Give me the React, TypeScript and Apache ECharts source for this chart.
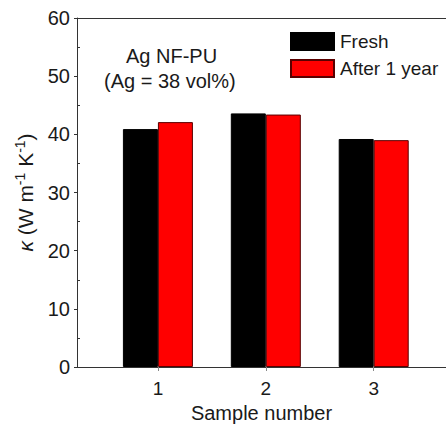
import React, { useEffect, useRef } from "react";
import * as echarts from "echarts";

// Thermal conductivity of Ag NF-PU samples, fresh vs. after one year
const samples = [1, 2, 3];
const freshValues = [40.9, 43.6, 39.2];
const agedValues = [42.1, 43.4, 39.0];
const seriesNames = ["Fresh", "After 1 year"];
const yTicks = [0, 10, 20, 30, 40, 50, 60];
const yMinorTicks = [5, 15, 25, 35, 45, 55];

const FONT = "'Liberation Sans', Arial, sans-serif";
const TEXT = "#1a1a1a";
const AXIS = "#333333";

// x range: the frame is open on the right and runs to the edge of the chart
const X_MIN = 0.25;
const X_MAX = 3.67;

export default function App() {
  const ref = useRef<HTMLDivElement>(null);

  useEffect(() => {
    if (!ref.current) return;
    const chart = echarts.init(ref.current, null, { renderer: "svg" });

    chart.setOption({
      animation: false,
      backgroundColor: "#ffffff",
      textStyle: { fontFamily: FONT },
      grid: {
        left: 77,
        top: 18,
        bottom: 63,
        right: 0,
        show: false,
        outerBoundsMode: "none",
      },
      legend: {
        left: 290,
        top: 32,
        padding: 0,
        orient: "vertical",
        itemWidth: 43,
        itemHeight: 17,
        itemGap: 8,
        icon: "rect",
        data: seriesNames,
        textStyle: { fontSize: 19, color: TEXT, fontFamily: FONT, padding: [0, 0, 0, 1] },
      },
      graphic: [
        {
          type: "text",
          left: 126,
          top: 46,
          style: { text: "Ag NF-PU", fontSize: 20, fill: TEXT, fontFamily: FONT },
        },
        {
          type: "text",
          left: 104,
          top: 71,
          style: { text: "(Ag = 38 vol%)", fontSize: 20, fill: TEXT, fontFamily: FONT },
        },
      ],
      xAxis: [
        {
          type: "value",
          min: X_MIN,
          max: X_MAX,
          name: "Sample number",
          nameLocation: "middle",
          nameGap: 36,
          nameTextStyle: { fontSize: 20, color: TEXT, fontFamily: FONT },
          splitLine: { show: false },
          axisLine: { show: true, lineStyle: { color: AXIS, width: 1 } },
          axisTick: { show: true, length: 4, lineStyle: { color: "#888888" }, customValues: samples },
          axisLabel: {
            fontSize: 19,
            color: TEXT,
            margin: 12,
            fontFamily: FONT,
            customValues: samples,
          },
        },
        {
          // top frame line
          type: "value",
          position: "top",
          min: X_MIN,
          max: X_MAX,
          splitLine: { show: false },
          axisLine: { show: true, onZero: false, lineStyle: { color: AXIS, width: 1 } },
          axisTick: { show: false },
          axisLabel: { show: false },
        },
      ],
      yAxis: [
        {
          type: "value",
          min: 0,
          max: 60,
          interval: 10,
          name: "{k|κ} (W m{s|-1} K{s|-1})",
          nameLocation: "middle",
          nameGap: 40,
          nameTextStyle: {
            fontSize: 21,
            color: TEXT,
            fontFamily: FONT,
            rich: {
              k: { fontSize: 21, fontStyle: "italic", color: TEXT, fontFamily: FONT },
              s: { fontSize: 14, color: TEXT, fontFamily: FONT, padding: [0, 0, 10, 0] },
            },
          },
          splitLine: { show: false },
          axisLine: { show: true, onZero: false, lineStyle: { color: AXIS, width: 1 } },
          axisTick: { show: true, length: 3, lineStyle: { color: AXIS } },
          axisLabel: {
            fontSize: 20,
            color: TEXT,
            margin: 7,
            fontFamily: FONT,
            customValues: yTicks,
          },
        },
        {
          // minor ticks, pointing into the plot
          type: "value",
          position: "left",
          min: 0,
          max: 60,
          interval: 10,
          splitLine: { show: false },
          axisLine: { show: false, onZero: false },
          axisTick: { show: true, inside: true, length: 3, lineStyle: { color: AXIS }, customValues: yMinorTicks },
          axisLabel: { show: false },
        },
      ],
      series: [
        {
          name: seriesNames[0],
          type: "bar",
          barWidth: 35,
          barGap: "0%",
          itemStyle: { color: "#000000", borderColor: "#000000", borderWidth: 1 },
          data: samples.map((s, i) => [s, freshValues[i]]),
        },
        {
          name: seriesNames[1],
          type: "bar",
          barWidth: 35,
          barGap: "0%",
          itemStyle: { color: "#ff0000", borderColor: "#5a0000", borderWidth: 1 },
          data: samples.map((s, i) => [s, agedValues[i]]),
        },
      ],
    });

    return () => chart.dispose();
  }, []);

  return (
    <div
      ref={ref}
      style={{ position: "fixed", left: 0, top: 0, width: 446, height: 430, background: "#fff" }}
    />
  );
}
